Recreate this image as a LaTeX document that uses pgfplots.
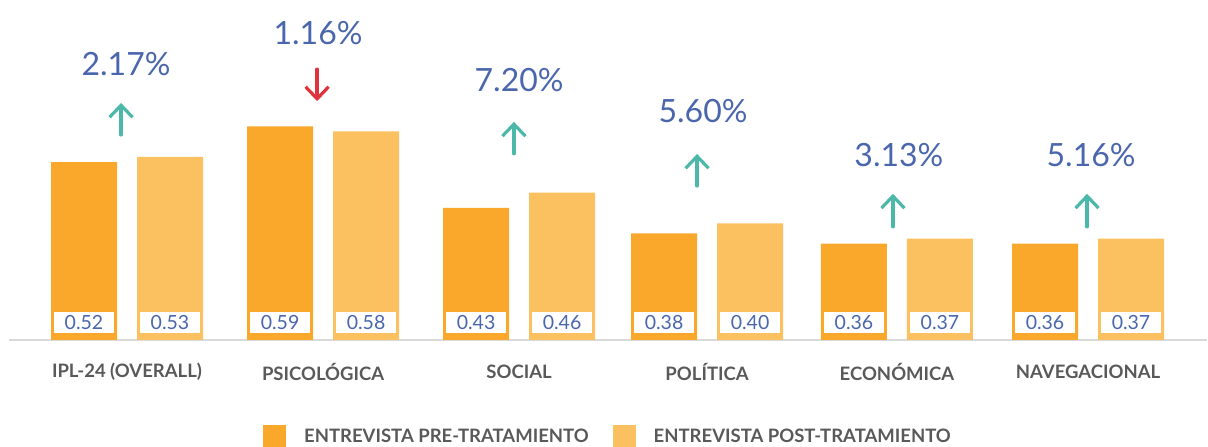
\documentclass[border=0pt]{standalone}
\usepackage{pgfplots}
\pgfplotsset{compat=1.18}
\usepackage{pgfplotstable}
\usepackage{fontspec}
\setmainfont{Lato}
\usetikzlibrary{arrows.meta}
\definecolor{preC}{RGB}{249,168,43}
\definecolor{postC}{RGB}{251,192,96}
\definecolor{blueT}{RGB}{74,102,172}
\definecolor{grayT}{RGB}{89,89,89}
\definecolor{tealA}{RGB}{75,184,170}
\definecolor{redA}{RGB}{222,50,60}
\definecolor{baseC}{RGB}{217,217,217}

\pgfplotstableread{
x pre post
0     0.52 0.53
1.020 0.59 0.58
2.040 0.43 0.46
3.018 0.38 0.40
4.006 0.36 0.37
5.000 0.36 0.37
}\datatab
\pgfplotstableread{
x y pct
-0.005 0.712 2.17
0.994  0.773 1.16
2.040  0.681 7.20
2.997  0.620 5.60
4.016  0.534 3.13
5.016  0.534 5.16
}\pcttab
\pgfplotstableread{
x y v
-0.031 0.573 0.0627
2.013  0.536 0.0627
2.966  0.473 0.0627
3.985  0.393 0.0647
4.995  0.393 0.0647
}\uptab
\pgfplotstableread{
x y v
0.989 0.702 -0.0627
}\downtab

\begin{document}
\begin{tikzpicture}[x=1pt,y=1pt]
\path[use as bounding box] (0,0) rectangle (1208,447);
\begin{axis}[
  at={(9pt,107pt)}, anchor=south west,
  scale only axis, width=1198pt, height=340pt,
  xmin=-0.614, xmax=5.619, ymin=0.1713, ymax=0.8374,
  /pgf/number format/assume math mode=true,
  axis y line=none, axis x line*=bottom,
  x axis line style={-, draw=baseC, line width=1.5pt},
  ytick=\empty,
  xtick={0,1.020,2.040,3.018,4.006,5.000},
  xticklabels={IPL-24 (OVERALL),PSICOLÓGICA,SOCIAL,POLÍTICA,ECONÓMICA,NAVEGACIONAL},
  major tick length=0pt,
  xticklabel style={font=\bfseries\fontsize{18.5}{22}\selectfont, text=grayT, anchor=center, yshift=-32pt},
  clip mode=individual,
  legend style={at={(0.500,-0.285)}, anchor=center, draw=none, fill=none,
    legend columns=2, font=\bfseries\fontsize{18.5}{22}\selectfont, text=grayT,
    /tikz/every odd column/.append style={column sep=16pt},
    /tikz/every even column/.append style={column sep=22pt}},
  legend cell align=left,
]
\addplot[ybar, bar width=66pt, bar shift=-43pt, fill=preC, draw=none,
  legend image code/.code={\fill[preC] (0pt,-11.5pt) rectangle (23pt,11.5pt);}]
  table[x=x,y=pre]{\datatab};
\addlegendentry{ENTREVISTA PRE-TRATAMIENTO}
\addplot[ybar, bar width=66pt, bar shift=43pt, fill=postC, draw=none,
  legend image code/.code={\fill[postC] (0pt,-11.5pt) rectangle (23pt,11.5pt);}]
  table[x=x,y=post]{\datatab};
\addlegendentry{ENTREVISTA POST-TRATAMIENTO}

\addplot[forget plot, only marks, mark=none, point meta=explicit,
  nodes near coords={\pgfmathprintnumber[fixed,fixed zerofill,precision=2,assume math mode=true]{\pgfplotspointmeta}},
  every node near coord/.append style={xshift=-43pt, anchor=center, fill=white,
    minimum width=60pt, minimum height=21pt, inner sep=0pt, text=blueT,
    font=\fontsize{19.5}{20}\selectfont}]
  table[x=x, y expr=0.2056, meta=pre]{\datatab};
\addplot[forget plot, only marks, mark=none, point meta=explicit,
  nodes near coords={\pgfmathprintnumber[fixed,fixed zerofill,precision=2,assume math mode=true]{\pgfplotspointmeta}},
  every node near coord/.append style={xshift=43pt, anchor=center, fill=white,
    minimum width=60pt, minimum height=21pt, inner sep=0pt, text=blueT,
    font=\fontsize{19.5}{20}\selectfont}]
  table[x=x, y expr=0.2056, meta=post]{\datatab};

\addplot[forget plot, only marks, mark=none, point meta=explicit,
  nodes near coords={\pgfmathprintnumber[fixed,fixed zerofill,precision=2,assume math mode=true]{\pgfplotspointmeta}\%},
  every node near coord/.append style={anchor=center, text=blueT,
    font=\fontsize{32}{32}\selectfont}]
  table[x=x, y=y, meta=pct]{\pcttab};

\addplot[forget plot, tealA, line width=3.2pt, line cap=round,
  quiver={u=0, v=\thisrow{v}}, -{Straight Barb[length=12pt,width=23pt]}]
  table[x=x,y=y]{\uptab};
\addplot[forget plot, redA, line width=3.2pt, line cap=round,
  quiver={u=0, v=\thisrow{v}}, -{Straight Barb[length=12pt,width=23pt]}]
  table[x=x,y=y]{\downtab};
\end{axis}
\end{tikzpicture}
\end{document}
